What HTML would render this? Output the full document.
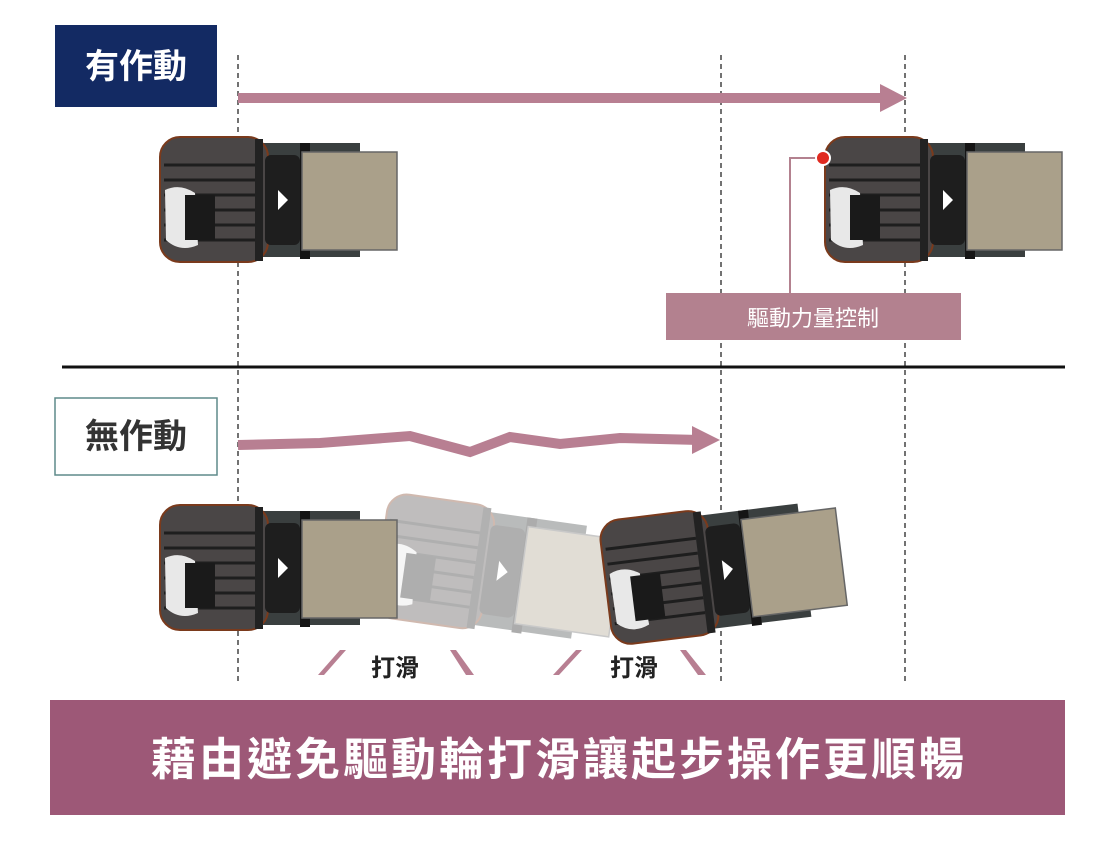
<!DOCTYPE html>
<html><head><meta charset="utf-8"><style>
body{margin:0;background:#fff;width:1120px;height:840px;overflow:hidden;font-family:"Liberation Sans","Noto Sans CJK TC",sans-serif}
</style></head><body>
<svg width="1120" height="840" viewBox="0 0 1120 840" xmlns="http://www.w3.org/2000/svg">
<defs>
<g id="truck">
  <rect x="90" y="8" width="110" height="114" fill="#3a3f3f"/>
  <rect x="0" y="2" width="108" height="125" rx="20" fill="#4a4646" stroke="#7a3a1c" stroke-width="2"/>
  <g stroke="#1e1e1e" stroke-width="3">
    <line x1="4" y1="30" x2="95" y2="30"/><line x1="4" y1="45" x2="95" y2="45"/>
    <line x1="4" y1="60" x2="95" y2="60"/><line x1="4" y1="75" x2="95" y2="75"/>
    <line x1="4" y1="90" x2="95" y2="90"/><line x1="4" y1="105" x2="95" y2="105"/>
  </g>
  <path d="M5 55 Q20 48 35 58 L38 110 Q20 118 6 105 Z" fill="#e8e8e8"/>
  <rect x="25" y="60" width="30" height="45" fill="#1a1a1a"/>
  <rect x="95" y="4" width="8" height="122" fill="#222"/>
  <rect x="105" y="20" width="35" height="90" rx="6" fill="#1e1e1e"/>
  <polygon points="118,55 128,65 118,75" fill="#fff"/>
  <rect x="140" y="8" width="10" height="116" fill="#151515"/>
  <rect x="142" y="17" width="95" height="98" fill="#aaa08a" stroke="#666" stroke-width="1.5"/>
</g>
</defs>
<rect x="55" y="25" width="162" height="82" fill="#132a63"/>
<text x="136" y="78" font-size="34" font-weight="bold" fill="#fff" text-anchor="middle">有作動</text>
<rect x="55" y="398" width="162" height="77" fill="#fff" stroke="#5f8a8a" stroke-width="1.5"/>
<text x="136" y="448" font-size="34" font-weight="bold" fill="#333" text-anchor="middle">無作動</text>
<g stroke="#444" stroke-width="1.5" stroke-dasharray="5,4">
<line x1="238" y1="55" x2="238" y2="685"/><line x1="721" y1="55" x2="721" y2="685"/><line x1="905" y1="55" x2="905" y2="685"/>
</g>
<line x1="238" y1="98" x2="885" y2="98" stroke="#b87f92" stroke-width="10"/>
<polygon points="880,84 907,98 880,112" fill="#b87f92"/>
<use href="#truck" x="160" y="135"/>
<use href="#truck" x="825" y="135"/>
<polyline points="823,158 790,158 790,293" fill="none" stroke="#b3818f" stroke-width="2"/>
<circle cx="823" cy="158" r="7" fill="#e02a20" stroke="#fff" stroke-width="2"/>
<rect x="666" y="293" width="295" height="47" fill="#b3818f"/>
<text x="813" y="326" font-size="22" fill="#fff" text-anchor="middle">驅動力量控制</text>
<line x1="62" y1="367" x2="1065" y2="367" stroke="#111" stroke-width="3"/>
<polyline points="238,445 320,443 410,436 470,452 510,437 560,444 620,438 700,440" fill="none" stroke="#b87f92" stroke-width="10"/>
<polygon points="692,426 720,440 692,454" fill="#b87f92"/>
<g opacity="0.35"><use href="#truck" transform="translate(390,490) rotate(8)"/></g>
<use href="#truck" x="160" y="503"/>
<use href="#truck" transform="translate(598,520) rotate(-7)"/>
<g fill="#b87f92">
<polygon points="318,675 324,675 346,650 340,650"/>
<polygon points="450,650 456,650 474,675 466,675"/>
<polygon points="553,675 559,675 582,650 576,650"/>
<polygon points="680,650 686,650 706,675 698,675"/>
</g>
<text x="395" y="676" font-size="24" font-weight="bold" fill="#222" text-anchor="middle">打滑</text>
<text x="634" y="676" font-size="24" font-weight="bold" fill="#222" text-anchor="middle">打滑</text>
<rect x="50" y="700" width="1015" height="115" fill="#9d5877"/>
<text x="559" y="775" font-size="45" font-weight="bold" fill="#fff" text-anchor="middle" letter-spacing="3">藉由避免驅動輪打滑讓起步操作更順暢</text>
</svg>
</body></html>
